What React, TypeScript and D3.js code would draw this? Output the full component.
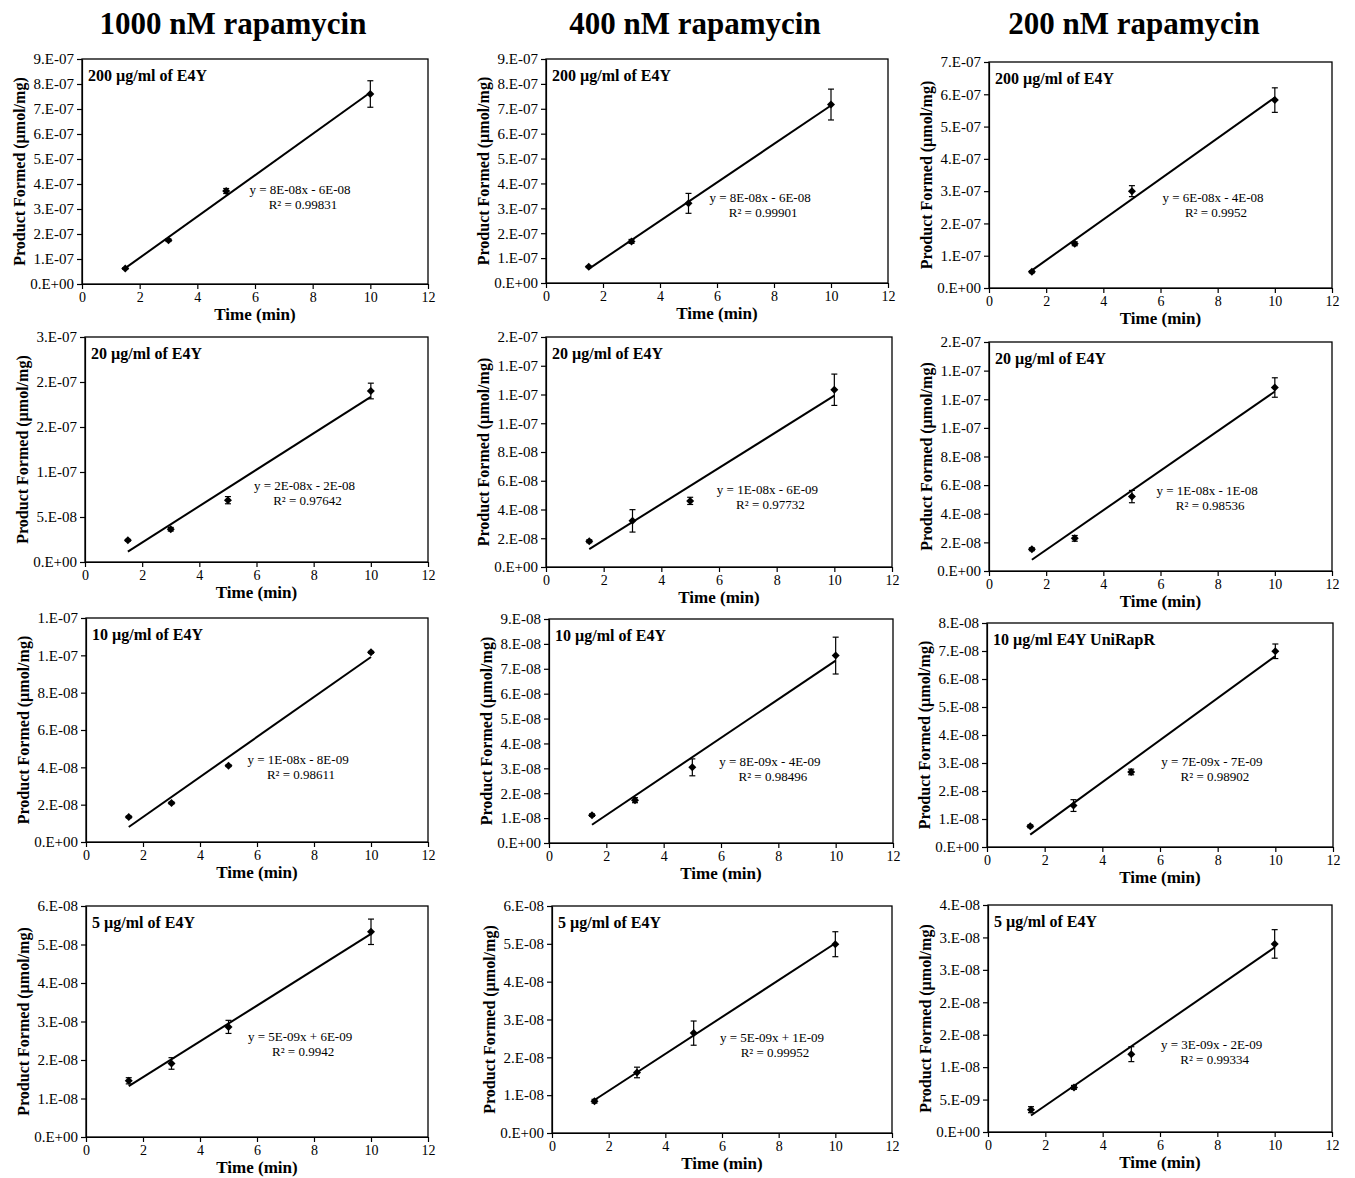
import React, { useEffect, useRef } from "react";
import * as d3 from "d3";

const WIDTH = 1355;
const HEIGHT = 1178;
const FONT = "'Liberation Serif', 'Times New Roman', serif";

// time points (min), same in every panel
const times = [1.5, 3, 5, 10];
const xTicks = [0, 2, 4, 6, 8, 10, 12];

const columnTitles = ["1000 nM rapamycin", "400 nM rapamycin", "200 nM rapamycin"];

// rows = E4Y concentration, columns = rapamycin concentration
const panelLabels = [
  ["200 µg/ml of E4Y", "200 µg/ml of E4Y", "200 µg/ml of E4Y"],
  ["20 µg/ml of E4Y", "20 µg/ml of E4Y", "20 µg/ml of E4Y"],
  ["10 µg/ml of E4Y", "10 µg/ml of E4Y", "10 µg/ml E4Y UniRapR"],
  ["5 µg/ml of E4Y", "5 µg/ml of E4Y", "5 µg/ml of E4Y"],
];

// product formed (µmol/mg) at each time point
const means = [
  [
    [6.2e-8, 1.75e-7, 3.72e-7, 7.6e-7],
    [6.5e-8, 1.67e-7, 3.2e-7, 7.17e-7],
    [5.0e-8, 1.37e-7, 3.0e-7, 5.82e-7],
  ],
  [
    [2.41e-8, 3.64e-8, 6.87e-8, 1.9e-7],
    [1.79e-8, 3.21e-8, 4.6e-8, 1.233e-7],
    [1.52e-8, 2.28e-8, 5.2e-8, 1.282e-7],
  ],
  [
    [1.34e-8, 2.09e-8, 4.09e-8, 1.016e-7],
    [1.12e-8, 1.72e-8, 3.04e-8, 7.53e-8],
    [0.74e-8, 1.48e-8, 2.68e-8, 6.99e-8],
  ],
  [
    [1.46e-8, 1.91e-8, 2.86e-8, 5.33e-8],
    [0.84e-8, 1.6e-8, 2.64e-8, 4.99e-8],
    [3.44e-9, 6.88e-9, 1.2e-8, 2.9e-8],
  ],
];

// standard deviation of each point
const errors = [
  [
    [0.3e-8, 0.5e-8, 1.0e-8, 5.3e-8],
    [0.3e-8, 0.8e-8, 4.0e-8, 6.2e-8],
    [0.3e-8, 0.6e-8, 1.7e-8, 3.8e-8],
  ],
  [
    [0.1e-8, 0.2e-8, 0.4e-8, 0.87e-8],
    [0.1e-8, 0.78e-8, 0.25e-8, 1.09e-8],
    [0.1e-8, 0.2e-8, 0.43e-8, 0.68e-8],
  ],
  [
    [0.05e-8, 0.05e-8, 0.05e-8, 0.05e-8],
    [0.05e-8, 0.1e-8, 0.34e-8, 0.74e-8],
    [0.05e-8, 0.21e-8, 0.1e-8, 0.26e-8],
  ],
  [
    [0.08e-8, 0.15e-8, 0.17e-8, 0.33e-8],
    [0.05e-8, 0.14e-8, 0.32e-8, 0.33e-8],
    [0.46e-9, 0.3e-9, 1.15e-9, 2.2e-9],
  ],
];

const yStep = [
  [1e-7, 1e-7, 1e-7],
  [5e-8, 2e-8, 2e-8],
  [2e-8, 1e-8, 1e-8],
  [1e-8, 1e-8, 5e-9],
];

// Excel-style rounded tick labels, bottom to top
const t9e7 = ["0.E+00", "1.E-07", "2.E-07", "3.E-07", "4.E-07", "5.E-07", "6.E-07", "7.E-07", "8.E-07", "9.E-07"];
const t7e7 = ["0.E+00", "1.E-07", "2.E-07", "3.E-07", "4.E-07", "5.E-07", "6.E-07", "7.E-07"];
const t25e8 = ["0.E+00", "5.E-08", "1.E-07", "2.E-07", "2.E-07", "3.E-07"];
const t16e8 = ["0.E+00", "2.E-08", "4.E-08", "6.E-08", "8.E-08", "1.E-07", "1.E-07", "1.E-07", "2.E-07"];
const t12e8 = ["0.E+00", "2.E-08", "4.E-08", "6.E-08", "8.E-08", "1.E-07", "1.E-07"];
const t9e8 = ["0.E+00", "1.E-08", "2.E-08", "3.E-08", "4.E-08", "5.E-08", "6.E-08", "7.E-08", "8.E-08", "9.E-08"];
const t8e8 = ["0.E+00", "1.E-08", "2.E-08", "3.E-08", "4.E-08", "5.E-08", "6.E-08", "7.E-08", "8.E-08"];
const t6e8 = ["0.E+00", "1.E-08", "2.E-08", "3.E-08", "4.E-08", "5.E-08", "6.E-08"];
const t35e9 = ["0.E+00", "5.E-09", "1.E-08", "2.E-08", "2.E-08", "3.E-08", "3.E-08", "4.E-08"];

const yTickLabels = [
  [t9e7, t9e7, t7e7],
  [t25e8, t16e8, t16e8],
  [t12e8, t9e8, t8e8],
  [t6e8, t6e8, t35e9],
];

const equations = [
  ["y = 8E-08x - 6E-08", "y = 8E-08x - 6E-08", "y = 6E-08x - 4E-08"],
  ["y = 2E-08x - 2E-08", "y = 1E-08x - 6E-09", "y = 1E-08x - 1E-08"],
  ["y = 1E-08x - 8E-09", "y = 8E-09x - 4E-09", "y = 7E-09x - 7E-09"],
  ["y = 5E-09x + 6E-09", "y = 5E-09x + 1E-09", "y = 3E-09x - 2E-09"],
];

const rSquared = [
  ["0.99831", "0.99901", "0.9952"],
  ["0.97642", "0.97732", "0.98536"],
  ["0.98611", "0.98496", "0.98902"],
  ["0.9942", "0.99952", "0.99334"],
];

// plot area of each panel: [left, top, right, bottom]
const panelBoxes = [
  [[82, 59, 428, 284], [546, 59, 888, 283], [989, 62, 1332, 288]],
  [[85, 337, 428, 562], [546, 337, 892, 567], [989, 342, 1332, 571]],
  [[86, 618, 428, 842], [549, 619, 893, 843], [987, 623, 1333, 847]],
  [[86, 906, 428, 1137], [552, 906, 892, 1133], [988, 905, 1332, 1132]],
];

// equation label position as fraction of plot area
const eqPos = [
  [[0.63, 0.58], [0.626, 0.62], [0.653, 0.6]],
  [[0.64, 0.66], [0.64, 0.665], [0.636, 0.65]],
  [[0.62, 0.634], [0.642, 0.64], [0.65, 0.62]],
  [[0.626, 0.567], [0.647, 0.58], [0.65, 0.617]],
];

const titleX = [233, 695, 1134];

function linearFit(xs, ys) {
  const mx = d3.mean(xs);
  const my = d3.mean(ys);
  const sxy = d3.sum(xs, (x, i) => (x - mx) * (ys[i] - my));
  const sxx = d3.sum(xs, (x) => (x - mx) * (x - mx));
  const slope = sxy / sxx;
  return { slope, intercept: my - slope * mx };
}

function RapamycinGrid() {
  const svgRef = useRef(null);

  useEffect(() => {
    const svg = d3.select(svgRef.current);
    svg.selectAll("*").remove();

    svg.append("rect").attr("width", WIDTH).attr("height", HEIGHT).attr("fill", "white");

    // column headers
    columnTitles.forEach((t, c) => {
      svg.append("text")
        .attr("x", titleX[c])
        .attr("y", 34)
        .attr("text-anchor", "middle")
        .style("font-family", FONT)
        .style("font-weight", "bold")
        .style("font-size", "31px")
        .text(t);
    });

    panelBoxes.forEach((row, r) => {
      row.forEach(([x0, y0, x1, y1], c) => {
        const g = svg.append("g");
        const xScale = d3.scaleLinear().domain([0, 12]).range([x0, x1]);
        const labels = yTickLabels[r][c];
        const step = yStep[r][c];
        const yMax = step * (labels.length - 1);
        const yScale = d3.scaleLinear().domain([0, yMax]).range([y1, y0]);
        const yTicks = labels.map((_, i) => i * step);

        // frame
        g.append("rect")
          .attr("x", x0).attr("y", y0)
          .attr("width", x1 - x0).attr("height", y1 - y0)
          .attr("fill", "none").attr("stroke", "#000").attr("stroke-width", 1.3);

        // y axis
        const yAxis = g.append("g")
          .attr("transform", `translate(${x0},0)`)
          .call(d3.axisLeft(yScale)
            .tickValues(yTicks)
            .tickFormat((_, i) => labels[i])
            .tickSizeInner(5)
            .tickSizeOuter(0)
            .tickPadding(3));
        yAxis.selectAll("line, path").attr("stroke", "#000").attr("stroke-width", 1.2);
        yAxis.selectAll("text")
          .attr("fill", "#000")
          .style("font-family", FONT)
          .style("font-size", "15px");

        // x axis
        const xAxis = g.append("g")
          .attr("transform", `translate(0,${y1})`)
          .call(d3.axisBottom(xScale)
            .tickValues(xTicks)
            .tickFormat(d3.format("d"))
            .tickSizeInner(5)
            .tickSizeOuter(0)
            .tickPadding(3));
        xAxis.selectAll("line, path").attr("stroke", "#000").attr("stroke-width", 1.2);
        xAxis.selectAll("text")
          .attr("fill", "#000")
          .style("font-family", FONT)
          .style("font-size", "14px");

        // axis titles
        g.append("text")
          .attr("x", (x0 + x1) / 2)
          .attr("y", y1 + 36)
          .attr("text-anchor", "middle")
          .style("font-family", FONT)
          .style("font-weight", "bold")
          .style("font-size", "17px")
          .text("Time (min)");

        g.append("text")
          .attr("transform", `translate(${x0 - 57},${(y0 + y1) / 2}) rotate(-90)`)
          .attr("text-anchor", "middle")
          .style("font-family", FONT)
          .style("font-weight", "bold")
          .style("font-size", "16px")
          .text("Product Formed (µmol/mg)");

        // panel label
        g.append("text")
          .attr("x", x0 + 6)
          .attr("y", y0 + 22)
          .style("font-family", FONT)
          .style("font-weight", "bold")
          .style("font-size", "16px")
          .text(panelLabels[r][c]);

        const ys = means[r][c];
        const es = errors[r][c];
        const pts = times.map((t, i) => ({ t, v: ys[i], e: es[i] }));

        // linear trend line over the data range
        const { slope, intercept } = linearFit(times, ys);
        const tExt = d3.extent(times);
        g.append("path")
          .datum(tExt)
          .attr("d", d3.line()
            .x((d) => xScale(d))
            .y((d) => yScale(slope * d + intercept)))
          .attr("stroke", "#000")
          .attr("stroke-width", 2)
          .attr("fill", "none");

        // error bars
        const bars = g.append("g").attr("stroke", "#000").attr("stroke-width", 1.2);
        pts.forEach((p) => {
          const px = xScale(p.t);
          const top = yScale(p.v + p.e);
          const bot = yScale(p.v - p.e);
          bars.append("line").attr("x1", px).attr("x2", px).attr("y1", top).attr("y2", bot);
          bars.append("line").attr("x1", px - 3).attr("x2", px + 3).attr("y1", top).attr("y2", top);
          bars.append("line").attr("x1", px - 3).attr("x2", px + 3).attr("y1", bot).attr("y2", bot);
        });

        // diamond markers
        const diamond = d3.symbol().type(d3.symbolSquare).size(32);
        g.selectAll(".pt")
          .data(pts)
          .join("path")
          .attr("class", "pt")
          .attr("d", diamond)
          .attr("transform", (d) => `translate(${xScale(d.t)},${yScale(d.v)}) rotate(45)`)
          .attr("fill", "#000");

        // equation and R²
        const [fx, fy] = eqPos[r][c];
        const ex = x0 + fx * (x1 - x0);
        const ey = y0 + fy * (y1 - y0);
        g.append("text")
          .attr("x", ex).attr("y", ey + 4)
          .attr("text-anchor", "middle")
          .style("font-family", FONT)
          .style("font-size", "13px")
          .text(equations[r][c]);
        g.append("text")
          .attr("x", ex + 3).attr("y", ey + 19)
          .attr("text-anchor", "middle")
          .style("font-family", FONT)
          .style("font-size", "13px")
          .text(`R² = ${rSquared[r][c]}`);
      });
    });
  }, []);

  return (
    <svg
      ref={svgRef}
      width={WIDTH}
      height={HEIGHT}
      style={{ position: "absolute", left: 0, top: 0, display: "block" }}
    />
  );
}

export default function App() {
  return <RapamycinGrid />;
}
